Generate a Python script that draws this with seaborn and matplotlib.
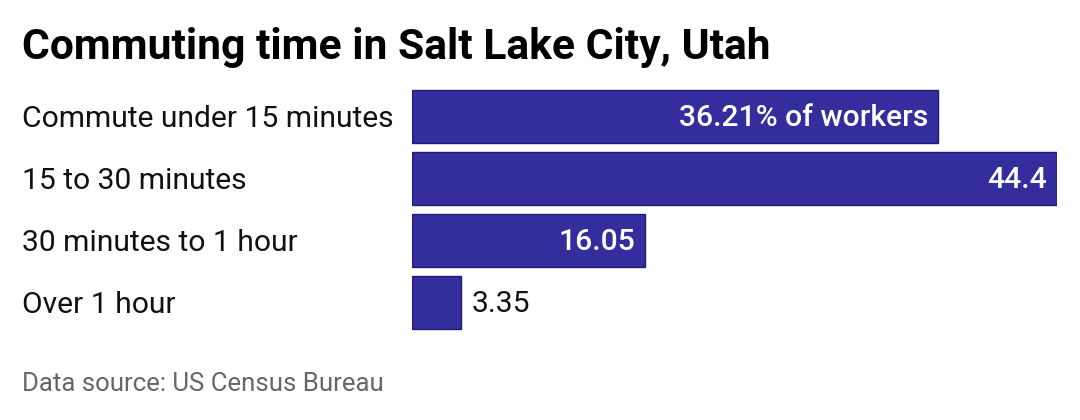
import matplotlib
matplotlib.use('Agg')
import matplotlib.pyplot as plt
import matplotlib.transforms as mtransforms
import pandas as pd
import seaborn as sns

categorias = ['Commute under 15 minutes', '15 to 30 minutes', '30 minutes to 1 hour', 'Over 1 hour']
porcentajes = [36.21, 44.4, 16.05, 3.35]
etiquetas = ['36.21% of workers', '44.4', '16.05', '3.35']

azul = '#332d9e'
borde = '#1e1a7a'

sns.set_theme(style='white')
plt.rcParams['font.family'] = ['Roboto', 'DejaVu Sans']

df = pd.DataFrame({'categoria': categorias, 'valor': porcentajes})

fig = plt.figure(figsize=(10.8, 4.2), dpi=100)
ax = fig.add_axes([412 / 1080, 0.206, (1057 - 412) / 1080, 0.5904])

sns.barplot(data=df, y='categoria', x='valor', orient='h', color=azul,
            width=0.85, edgecolor=borde, linewidth=1, saturation=1, ax=ax)

ax.set_xlim(0, max(porcentajes))
ax.set_ylim(3.5, -0.5)
ax.axis('off')

# etiquetas de categoria alineadas a la izquierda
trans = mtransforms.blended_transform_factory(fig.transFigure, ax.transData)
for i, cat in enumerate(categorias):
    ax.annotate(cat, xy=(22 / 1080, i), xycoords=trans, xytext=(0, -2),
                textcoords='offset points', ha='left', va='center',
                fontsize=21.6, color='#111111')

# valores
for i, (valor, texto) in enumerate(zip(porcentajes, etiquetas)):
    if valor > 10:
        ax.annotate(texto, xy=(valor, i), xytext=(-7, -1), textcoords='offset points',
                    ha='right', va='center', fontsize=21.6, color='white',
                    fontweight='medium')
    else:
        ax.annotate(texto, xy=(valor, i), xytext=(8, -1), textcoords='offset points',
                    ha='left', va='center', fontsize=21.6, color='#111111')

fig.text(22 / 1080, 1 - 47 / 420, 'Commuting time in Salt Lake City, Utah',
         ha='left', va='center', fontsize=30.7, fontweight='bold', color='#000000')
fig.text(22 / 1080, 1 - 384 / 420, 'Data source: US Census Bureau',
         ha='left', va='center', fontsize=18.5, color='#666666')

fig.savefig('out.png', dpi=100, facecolor='white')
